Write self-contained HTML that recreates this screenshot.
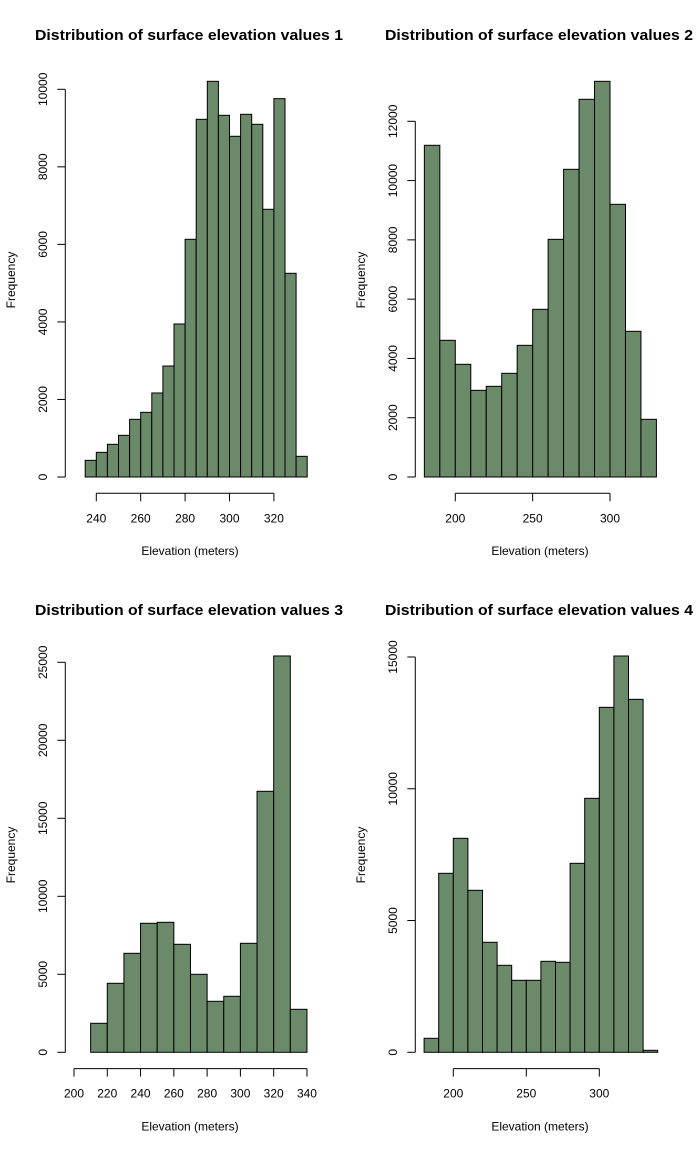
<!DOCTYPE html>
<html><head><meta charset="utf-8"><style>
html,body{margin:0;padding:0;background:#fff;}
svg{display:block;font-family:"Liberation Sans",Arial,sans-serif;}
</style></head><body>
<svg id="chart" width="700" height="1150" viewBox="0 0 700 1150"></svg>
<script>
const titles = ["Distribution of surface elevation values 1","Distribution of surface elevation values 2","Distribution of surface elevation values 3","Distribution of surface elevation values 4"];
const binStarts = [230, 180, 200, 180];
const binWidths = [5, 10, 10, 10];
const counts1 = [0,430,636,843,1075,1488,1668,2167,2863,3947,6131,9226,10206,9329,8788,9355,9097,6905,9759,5254,533];
const counts2 = [11190,4611,3802,2924,3059,3498,4442,5657,8018,10380,12742,13349,9199,4915,1946];
const counts3 = [0,1859,4423,6346,8269,8333,6923,5000,3269,3590,6987,16731,25406,2756];
const counts4 = [531,6792,8120,6147,4174,3301,2732,2732,3453,3415,7171,9637,13090,15038,13394,76];
const xTicks1 = [240,260,280,300,320];
const xTicks2 = [200,250,300];
const xTicks3 = [200,220,240,260,280,300,320,340];
const xTicks4 = [200,250,300];
const yTicks1 = [0,2000,4000,6000,8000,10000];
const yTicks2 = [0,2000,4000,6000,8000,10000,12000];
const yTicks3 = [0,5000,10000,15000,20000,25000];
const yTicks4 = [0,5000,10000,15000];

const allCounts=[counts1,counts2,counts3,counts4];
const allX=[xTicks1,xTicks2,xTicks3,xTicks4];
const allY=[yTicks1,yTicks2,yTicks3,yTicks4];
// layout (pixel calibration)
const cfg=[
 {ox:0,oy:0,x0:240,px0:96.3,ppu:2.22,y0:477,yppu:387.7/10000},
 {ox:0,oy:0,x0:200,px0:455.3,ppu:1.547,y0:477,yppu:355.7/12000},
 {ox:0,oy:575,x0:200,px0:74,ppu:1.664,y0:1052.3,yppu:390/25000},
 {ox:0,oy:575,x0:200,px0:453.3,ppu:1.46,y0:1052.3,yppu:395.3/15000}
];
const svg=document.getElementById('chart');
const NS='http://www.w3.org/2000/svg';
function mk(tag,attrs,parent){const e=document.createElementNS(NS,tag);for(const k in attrs)e.setAttribute(k,attrs[k]);parent.appendChild(e);return e;}
for(let p=0;p<4;p++){
  const c=cfg[p];
  const left=p%2===0?0:350;
  const top=p<2?0:575;
  const g=mk('g',{},svg);
  
  
  const sx=v=>c.px0+(v-c.x0)*c.ppu;
  const sy=v=>c.y0-v*c.yppu;
  const t=mk('text',{x:left+35,y:top+40,'font-size':'14.5','font-weight':'bold',textLength:'308',lengthAdjust:'spacingAndGlyphs'},g);
  t.textContent=titles[p];
  
  
  const counts=allCounts[p];
  counts.forEach((v,i)=>{
    const a=binStarts[p]+i*binWidths[p];
    const x1=sx(a),x2=sx(a+binWidths[p]);
    const r=mk('rect',{x:x1,y:sy(v),width:x2-x1,height:Math.max(sy(0)-sy(v),0),fill:'#6a8a69',stroke:'#000','stroke-width':'1'},g);
    
    
  });
  // y axis
  const yt=allY[p];
  const yax=mk('g',{},g);
  
  
  const yl=left+65.3;
  mk('line',{x1:yl,x2:yl,y1:sy(yt[0]),y2:sy(yt[yt.length-1]),stroke:'#000'},yax);
  yt.forEach(v=>{
    mk('line',{x1:yl-8,x2:yl,y1:sy(v),y2:sy(v),stroke:'#000'},yax);
    const tx=mk('text',{x:0,y:0,'font-size':'12','text-anchor':'middle',transform:`translate(${left+47},${sy(v)}) rotate(-90)`},yax);
    tx.textContent=v;
    
    
  });
  // x axis
  const xt=allX[p];
  const xax=mk('g',{},g);
  
  
  const ay=c.y0+16.3;
  mk('line',{x1:sx(xt[0]),x2:sx(xt[xt.length-1]),y1:ay,y2:ay,stroke:'#000'},xax);
  xt.forEach(v=>{
    mk('line',{x1:sx(v),x2:sx(v),y1:ay,y2:ay+8,stroke:'#000'},xax);
    const tx=mk('text',{x:sx(v),y:ay+29,'font-size':'12','text-anchor':'middle'},xax);
    tx.textContent=v;
    
    
  });
  const xl=mk('text',{x:left+190,y:c.y0+78,'font-size':'12','text-anchor':'middle'},g);
  xl.textContent='Elevation (meters)';
  
  
  const ylab=mk('text',{x:0,y:0,'font-size':'12','text-anchor':'middle',transform:`translate(${left+15},${top+280}) rotate(-90)`},g);
  ylab.textContent='Frequency';
  
  
}
</script>
</body></html>
